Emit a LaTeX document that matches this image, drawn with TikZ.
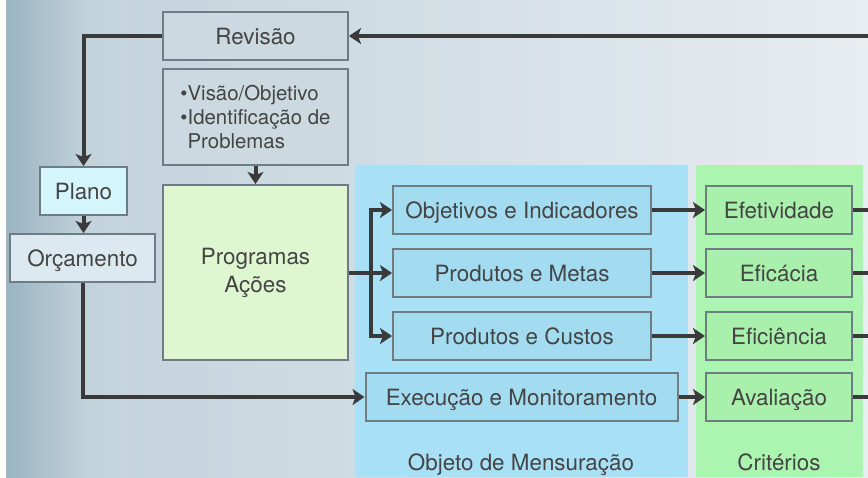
\documentclass[tikz,border=0pt]{standalone}
\usepackage{fontspec}
\setmainfont{TeX Gyre Heros}
\usetikzlibrary{arrows.meta}

\definecolor{bgleft}{HTML}{9AB4C2}
\definecolor{bgmid}{HTML}{C3D3DC}
\definecolor{bgright}{HTML}{E7EDF1}
\definecolor{greybox}{HTML}{CCD9E0}
\definecolor{planofill}{HTML}{D5F5FD}
\definecolor{orcfill}{HTML}{DCE9F0}
\definecolor{progfill}{HTML}{DEF7D0}
\definecolor{bluepanel}{HTML}{A8E0F5}
\definecolor{bluebox}{HTML}{A3DCF1}
\definecolor{greenpanel}{HTML}{ACF5B0}
\definecolor{greenbox}{HTML}{A9F0AC}
\definecolor{boxline}{HTML}{6E7C84}
\definecolor{arrowc}{HTML}{3A3A3A}
\definecolor{txt}{HTML}{444444}

\begin{document}
\begin{tikzpicture}[x=0.5pt, y=-0.5pt,
		every node/.style={font=\fontsize{11.2}{12}\selectfont, text=txt},
		box/.style={draw=boxline, line width=1pt, fill=#1, minimum height=24pt, inner sep=0pt},
		box/.default=greybox,
		one/.style={text height=8pt, text depth=0pt},
		L/.style={line width=2pt, draw=arrowc, -{Stealth[length=6pt, width=8pt, inset=1.5pt]}},
		W/.style={line width=2pt, draw=arrowc}
		]
		\useasboundingbox (0,0) rectangle (868,477);
		
		% background
		\fill[white] (0,0) rectangle (868,477);
		\shade[left color=bgleft, right color=bgmid] (6,0) rectangle (90,477);
		\shade[left color=bgmid, right color=bgright] (90,0) rectangle (868,477);
		\fill[bluepanel] (355,165) rectangle (688,477);
		\fill[greenpanel] (696,165) rectangle (863,477);
		
		% left column
		\node[box, one, minimum width=92.5pt] (rev) at (255.5,36) {Revisão};
		\node[box, minimum width=92.5pt, minimum height=48pt, align=left, font=\fontsize{10.2}{12}\selectfont] (vis) at (255.5,117)
			{\textbullet Visão/Objetivo\\\textbullet Identificação de\\\phantom{\textbullet}Problemas};
		\node[box=progfill, minimum width=92.5pt, minimum height=87.5pt, align=center] (prog) at (255.5,272.5) {Programas\\[2pt]Ações};
		\node[box=planofill, one, minimum width=43.5pt] (plano) at (83.5,191) {Plano};
		\node[box=orcfill, one, minimum width=72.5pt] (orc) at (82.5,258) {Orçamento};
		
		% objeto de mensuracao
		\node[box=bluebox, one, minimum width=129pt] (obj) at (522,210) {Objetivos e Indicadores};
		\node[box=bluebox, one, minimum width=129pt] (met) at (522,273) {Produtos e Metas};
		\node[box=bluebox, one, minimum width=129pt] (cus) at (522,336) {Produtos e Custos};
		\node[box=bluebox, one, minimum width=156pt] (exe) at (521.5,397) {Execução e Monitoramento};
		\node[anchor=base] (lblobj) at (521,470) {Objeto de Mensuração};
		
		% criterios
		\node[box=greenbox, one, minimum width=73pt] (efe) at (779,210) {Efetividade};
		\node[box=greenbox, one, minimum width=73pt] (efi) at (779,273) {Eficácia};
		\node[box=greenbox, one, minimum width=73pt] (efc) at (779,336) {Eficiência};
		\node[box=greenbox, one, minimum width=73pt] (ava) at (779,397) {Avaliação};
		\node[anchor=base] (lblcrit) at (779,470) {Critérios};
		
		% connectors
		\coordinate (rin) at (868,36);
		\coordinate (br) at (371,273);
		\draw[L] (rin) -- (rev.east);
		\draw[L] (rev.west) -| (plano.north);
		\draw[L] (plano.south) -- (plano.south |- orc.north);
		\draw[L] (orc.south) |- (exe.west);
		\draw[L] (vis.south) -- (prog.north);
		\draw[W] (prog.east |- br) -- (br);
		\draw[L] (br) |- (obj.west);
		\draw[L] (br) -- (met.west);
		\draw[L] (br) |- (cus.west);
		
		\foreach \a/\b in {obj/efe,met/efi,cus/efc,exe/ava}{
			\draw[L] (\a.east) -- (\b.west);
			\draw[W] (\b.east) -- (\b.east -| rin);
		}
		
\end{tikzpicture}
\end{document}
